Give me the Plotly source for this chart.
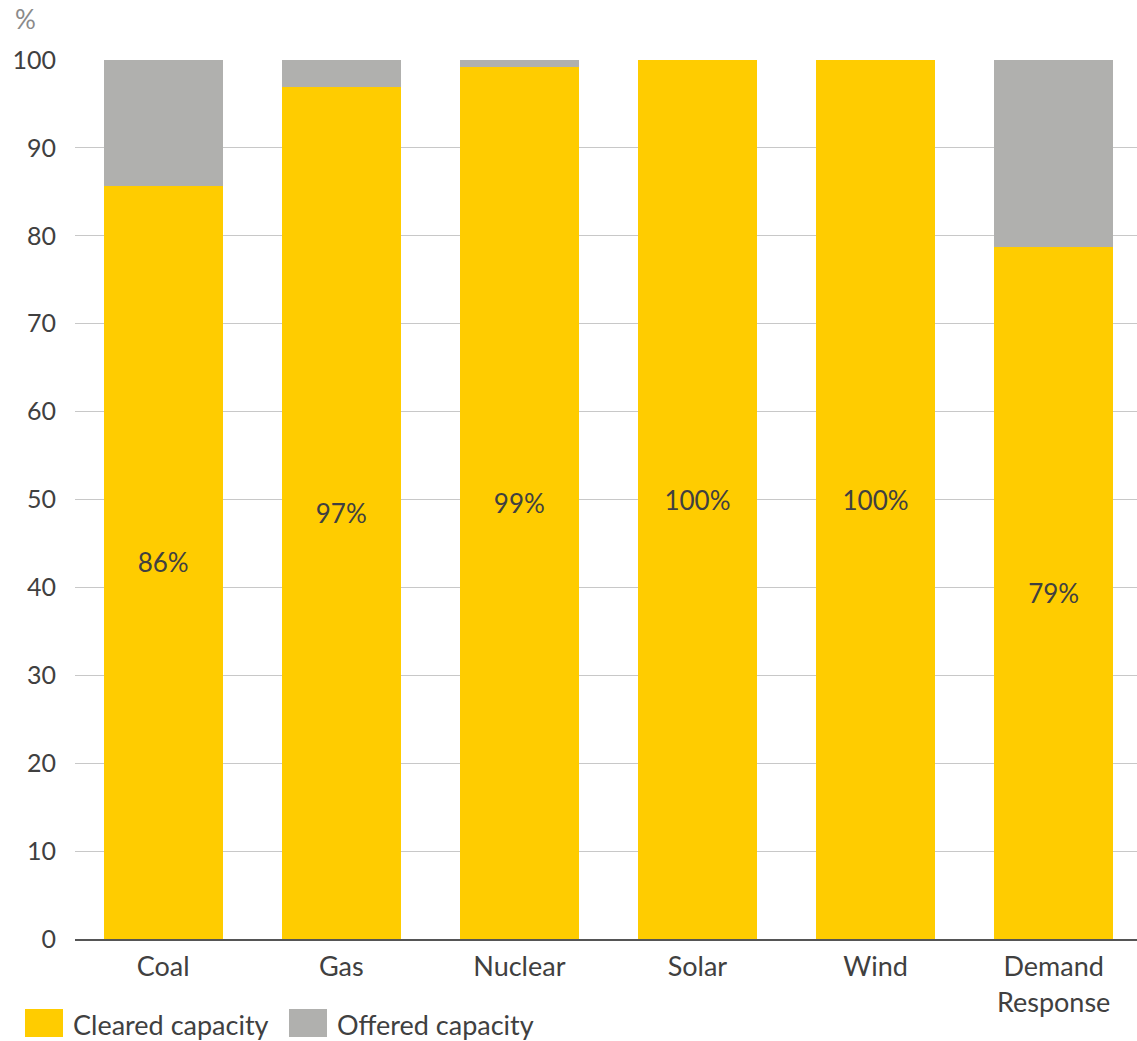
import plotly.graph_objects as go

categories = ["Coal", "Gas", "Nuclear", "Solar", "Wind", "Demand<br>Response"]
cleared = [85.7, 96.9, 99.2, 100, 100, 78.7]
labels = ["86%", "97%", "99%", "100%", "100%", "79%"]
offered = [100 - c for c in cleared]
series_names = ["Cleared capacity", "Offered capacity"]

YELLOW = "#FFCC00"
GREY = "#B0B0AE"
TEXT = "#404040"
FONT = "Lato"

W, H = 1137, 1041
L, R, T, B = 75, 0, 60, 102
PW, PH = W - L - R, H - T - B


def px(x):
    return (x - L) / PW


def py(y):
    return (H - B - y) / PH


fig = go.Figure()
fig.add_trace(go.Bar(
    x=categories, y=cleared, name=series_names[0],
    marker=dict(color=YELLOW, line=dict(width=0)),
    text=labels, textposition="inside", insidetextanchor="middle",
    textfont=dict(size=26, color=TEXT, family=FONT),
    hoverinfo="skip", showlegend=False,
))
fig.add_trace(go.Bar(
    x=categories, y=offered, name=series_names[1],
    marker=dict(color=GREY, line=dict(width=0)),
    hoverinfo="skip", showlegend=False,
))

# manual legend (large square swatches)
shapes = []
annotations = []
legend_items = [(series_names[0], YELLOW, 25, 71), (series_names[1], GREY, 289, 335)]
for name, color, sx, tx in legend_items:
    shapes.append(dict(type="rect", xref="paper", yref="paper",
                       x0=px(sx), x1=px(sx + 38), y0=py(1037), y1=py(1009),
                       fillcolor=color, line=dict(width=0)))
    annotations.append(dict(text=name, xref="paper", yref="paper", x=px(tx), y=py(1024),
                            xanchor="left", yanchor="middle", showarrow=False,
                            font=dict(size=27, color=TEXT, family=FONT)))

annotations.append(dict(text="%", xref="paper", yref="paper", x=px(13), y=py(19),
                        xanchor="left", yanchor="middle", showarrow=False,
                        font=dict(size=26, color="#8a8a8a", family=FONT)))

fig.update_layout(
    barmode="stack",
    bargap=0.332,
    width=W, height=H,
    margin=dict(l=L, r=R, t=T, b=B, autoexpand=False),
    plot_bgcolor="white", paper_bgcolor="white",
    font=dict(family=FONT, size=25, color=TEXT),
    showlegend=False,
    shapes=shapes,
    annotations=annotations,
)
fig.update_yaxes(range=[0, 100], dtick=10, showgrid=True, gridcolor="#c8c8c8", gridwidth=1,
                 zeroline=False, ticks="", tickfont=dict(size=25, color=TEXT),
                 ticklabelstandoff=18, automargin=False)
fig.update_xaxes(range=[-0.495, 5.468], showline=True, linecolor="#555555", linewidth=2, ticks="",
                 tickfont=dict(size=27, color=TEXT), ticklabelstandoff=3, automargin=False)

fig.write_html("out.html")
